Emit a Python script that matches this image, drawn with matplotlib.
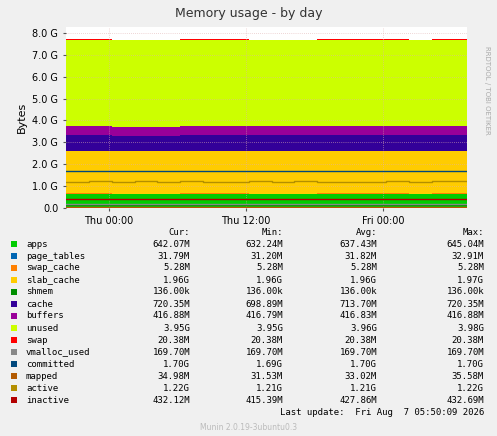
import matplotlib
matplotlib.use("Agg")
import matplotlib.pyplot as plt
import numpy as np

# hours since left edge of graph (Wed ~20:14)
hours = [0, 2, 4, 6, 8, 10, 12, 14, 16, 18, 20, 22, 24, 26, 28, 30, 32, 35.1]

# stacked areas, GiB
apps = [0.63, 0.63, 0.62, 0.62, 0.62, 0.63, 0.63, 0.63, 0.62, 0.62, 0.62, 0.63, 0.63, 0.63, 0.63, 0.62, 0.63, 0.63]
page_tables = [0.031] * 18
swap_cache = [0.005] * 18
slab_cache = [1.96, 1.96, 1.96, 1.96, 1.96, 1.96, 1.96, 1.96, 1.96, 1.96, 1.96, 1.96, 1.96, 1.96, 1.96, 1.96, 1.96, 1.96]
cache = [0.69, 0.69, 0.69, 0.69, 0.69, 0.69, 0.70, 0.70, 0.70, 0.70, 0.70, 0.70, 0.70, 0.70, 0.70, 0.70, 0.70, 0.70]
buffers = [0.41, 0.41, 0.41, 0.41, 0.41, 0.41, 0.41, 0.41, 0.41, 0.41, 0.41, 0.41, 0.41, 0.41, 0.41, 0.41, 0.41, 0.41]
unused = [3.96, 3.96, 3.96, 3.96, 3.96, 3.96, 3.95, 3.95, 3.95, 3.95, 3.95, 3.95, 3.95, 3.95, 3.95, 3.95, 3.95, 3.95]
swap = [0.02] * 18

# lines, GiB
shmem = [0.133] * 18
vmalloc_used = [0.166] * 18
committed = [1.70, 1.70, 1.69, 1.70, 1.70, 1.70, 1.70, 1.70, 1.70, 1.70, 1.70, 1.70, 1.70, 1.70, 1.70, 1.70, 1.70, 1.70]
mapped = [0.034] * 18
active = [1.21, 1.22, 1.20, 1.22, 1.21, 1.22, 1.21, 1.20, 1.22, 1.21, 1.22, 1.21, 1.20, 1.21, 1.22, 1.21, 1.22, 1.22]
inactive = [0.42, 0.42, 0.41, 0.42, 0.42, 0.42, 0.42, 0.42, 0.42, 0.42, 0.42, 0.42, 0.42, 0.42, 0.42, 0.42, 0.42, 0.42]

x_ticks = [3.77, 15.77, 27.77]
x_labels = ["Thu 00:00", "Thu 12:00", "Fri 00:00"]
y_ticks = [0, 1, 2, 3, 4, 5, 6, 7, 8]
y_labels = ["0.0", "1.0 G", "2.0 G", "3.0 G", "4.0 G", "5.0 G", "6.0 G", "7.0 G", "8.0 G"]

legend_rows = [
    ("apps", "#00CC00", "642.07M", "632.24M", "637.43M", "645.04M"),
    ("page_tables", "#0066B3", "31.79M", "31.20M", "31.82M", "32.91M"),
    ("swap_cache", "#FF8000", "5.28M", "5.28M", "5.28M", "5.28M"),
    ("slab_cache", "#FFCC00", "1.96G", "1.96G", "1.96G", "1.97G"),
    ("shmem", "#008F00", "136.00k", "136.00k", "136.00k", "136.00k"),
    ("cache", "#330099", "720.35M", "698.89M", "713.70M", "720.35M"),
    ("buffers", "#990099", "416.88M", "416.79M", "416.83M", "416.88M"),
    ("unused", "#CCFF00", "3.95G", "3.95G", "3.96G", "3.98G"),
    ("swap", "#FF0000", "20.38M", "20.38M", "20.38M", "20.38M"),
    ("vmalloc_used", "#888888", "169.70M", "169.70M", "169.70M", "169.70M"),
    ("committed", "#00487D", "1.70G", "1.69G", "1.70G", "1.70G"),
    ("mapped", "#B35A00", "34.98M", "31.53M", "33.02M", "35.58M"),
    ("active", "#B38F00", "1.22G", "1.21G", "1.21G", "1.22G"),
    ("inactive", "#B30000", "432.12M", "415.39M", "427.86M", "432.69M"),
]

W, H = 497, 436
fig = plt.figure(figsize=(W / 100, H / 100), dpi=100, facecolor="#F0F0F0")
ax = fig.add_axes([66 / W, 1 - 208 / H, 401 / W, 181 / H])
ax.set_facecolor("white")

colors = {r[0]: r[1] for r in legend_rows}
stack = [("apps", apps), ("page_tables", page_tables), ("swap_cache", swap_cache),
         ("slab_cache", slab_cache), ("cache", cache), ("buffers", buffers),
         ("unused", unused), ("swap", swap)]
ax.stackplot(hours, *[np.array(v) for _, v in stack],
             colors=[colors[n] for n, _ in stack], step="post", linewidth=0)
for name, vals in [("shmem", shmem), ("vmalloc_used", vmalloc_used), ("committed", committed),
                   ("mapped", mapped), ("active", active), ("inactive", inactive)]:
    ax.step(hours, vals, where="post", color=colors[name], lw=1)

ax.set_xlim(0, 35.1)
ax.set_ylim(0, 8.27)
ax.set_xticks(x_ticks)
ax.set_xticklabels(x_labels)
ax.set_yticks(y_ticks)
ax.set_yticklabels(y_labels)
ax.tick_params(labelsize=7, length=2, colors="#555555", labelcolor="black")
ax.grid(True, color="#E0B0B0", lw=0.5, ls=(0, (1, 2)))
for s in ax.spines.values():
    s.set_visible(False)
ax.set_ylabel("Bytes", fontsize=8)

fig.text(0.5, 1 - 13 / H, "Memory usage - by day", ha="center", va="center", fontsize=9, color="#333333")
fig.text(487 / W, 1 - 90 / H, "RRDTOOL / TOBI OETIKER", rotation=270, ha="center", va="center",
         fontsize=5, color="#AAAAAA")

mono = dict(family="DejaVu Sans Mono", fontsize=6.5, va="center")
col_x = [190, 283, 377, 484]
for cx, h in zip(col_x, ["Cur:", "Min:", "Avg:", "Max:"]):
    fig.text(cx / W, 1 - 232 / H, h, ha="right", **mono)
for i, (name, c, *vals) in enumerate(legend_rows):
    y = 1 - (244 + 12.0 * i) / H
    fig.patches.append(plt.Rectangle((11 / W, y - 3 / H), 6 / W, 6 / H, transform=fig.transFigure,
                                     facecolor=c, edgecolor="none"))
    fig.text(26 / W, y, name, ha="left", **mono)
    for cx, v in zip(col_x, vals):
        fig.text(cx / W, y, v, ha="right", **mono)
fig.text(484 / W, 1 - 412 / H, "Last update:  Fri Aug  7 05:50:09 2026", ha="right", **mono)
fig.text(0.5, 1 - 427 / H, "Munin 2.0.19-3ubuntu0.3", ha="center", va="center", fontsize=5.5,
         color="#BBBBBB")

fig.savefig("out.png", dpi=100, facecolor=fig.get_facecolor())
